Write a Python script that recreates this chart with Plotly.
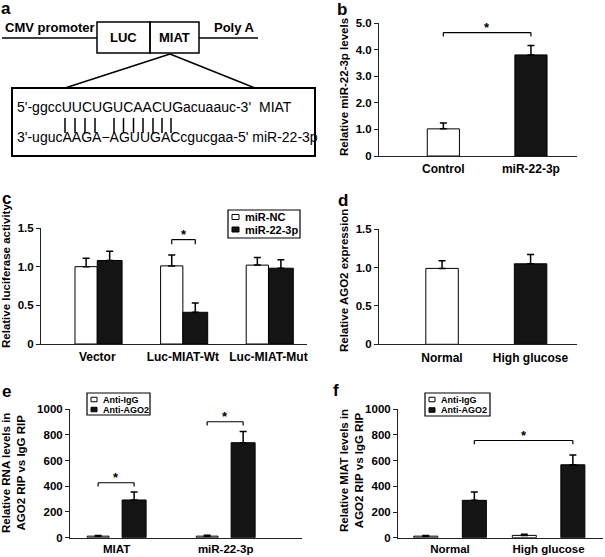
import plotly.graph_objects as go

W, H = 605, 557
def X(px): return px / W
def Y(py): return 1 - py / H

FONT = "Arial, Liberation Sans, sans-serif"
BLACK = "#141414"

# ---------------- data ----------------
b_categories = ["Control", "miR-22-3p"]
b_values = [1.02, 3.80]
b_errors = [0.22, 0.35]

c_categories = ["Vector", "Luc-MIAT-Wt", "Luc-MIAT-Mut"]
c_nc_values = [1.00, 1.01, 1.02]
c_nc_errors = [0.11, 0.14, 0.10]
c_mir_values = [1.08, 0.41, 0.98]
c_mir_errors = [0.12, 0.12, 0.11]

d_categories = ["Normal", "High glucose"]
d_values = [0.99, 1.05]
d_errors = [0.10, 0.12]

e_categories = ["MIAT", "miR-22-3p"]
e_igg_values = [12, 12]
e_igg_errors = [5, 8]
e_ago2_values = [293, 738]
e_ago2_errors = [62, 88]

f_categories = ["Normal", "High glucose"]
f_igg_values = [12, 18]
f_igg_errors = [5, 8]
f_ago2_values = [291, 568]
f_ago2_errors = [64, 76]

b_tickvals = [0, 1, 2, 3, 4, 5]
b_ticktext = ["0", "1.0", "2.0", "3.0", "4.0", "5.0"]
cd_tickvals = [0, 0.5, 1.0, 1.5]
cd_ticktext = ["0", "0.5", "1.0", "1.5"]
ef_tickvals = [0, 200, 400, 600, 800, 1000]
ef_ticktext = ["0", "200", "400", "600", "800", "1000"]

seq_miat = "5'-ggccUUCUGUCAACUGacuaauc-3'"
seq_mir = "3'-ugucAAGA\u2212AGUUGACcgucgaa-5'"

# ---------------- figure ----------------
fig = go.Figure()

def err(vals):
    return dict(type="data", array=vals, arrayminus=[0] * len(vals), symmetric=False,
                color="black", thickness=1.5, width=3.5)

white_bar = dict(color="white", line=dict(color="black", width=1))
black_bar = dict(color=BLACK, line=dict(color="black", width=1))

# b
fig.add_trace(go.Bar(x=b_categories, y=b_values, xaxis="x", yaxis="y",
                     marker=dict(color=["white", BLACK], line=dict(color="black", width=1)),
                     width=0.367, offset=-0.183, error_y=err(b_errors), showlegend=False))
# c
fig.add_trace(go.Bar(x=c_categories, y=c_nc_values, name="miR-NC", xaxis="x2", yaxis="y2",
                     marker=white_bar, width=0.26, offset=-0.26, error_y=err(c_nc_errors),
                     showlegend=False))
fig.add_trace(go.Bar(x=c_categories, y=c_mir_values, name="miR-22-3p", xaxis="x2", yaxis="y2",
                     marker=black_bar, width=0.29, offset=0.0, error_y=err(c_mir_errors),
                     showlegend=False))
# d
fig.add_trace(go.Bar(x=d_categories, y=d_values, xaxis="x3", yaxis="y3",
                     marker=dict(color=["white", BLACK], line=dict(color="black", width=1)),
                     width=0.367, offset=-0.183, error_y=err(d_errors), showlegend=False))
# e
fig.add_trace(go.Bar(x=e_categories, y=e_igg_values, name="Anti-IgG", xaxis="x4", yaxis="y4",
                     marker=white_bar, width=0.2, offset=-0.27, error_y=err(e_igg_errors),
                     showlegend=False))
fig.add_trace(go.Bar(x=e_categories, y=e_ago2_values, name="Anti-AGO2", xaxis="x4", yaxis="y4",
                     marker=black_bar, width=0.22, offset=0.05, error_y=err(e_ago2_errors),
                     showlegend=False))
# f
fig.add_trace(go.Bar(x=f_categories, y=f_igg_values, name="Anti-IgG", xaxis="x5", yaxis="y5",
                     marker=white_bar, width=0.244, offset=-0.368, error_y=err(f_igg_errors),
                     showlegend=False))
fig.add_trace(go.Bar(x=f_categories, y=f_ago2_values, name="Anti-AGO2", xaxis="x5", yaxis="y5",
                     marker=black_bar, width=0.244, offset=0.125, error_y=err(f_ago2_errors),
                     showlegend=False))

tickfont_y = dict(family=FONT, size=11.5, color="black", weight="bold")

def xax(dom, rng, fsize=12, standoff=2):
    return dict(domain=[X(dom[0]), X(dom[1])], range=rng, showline=True, linecolor="#222",
                linewidth=1, ticks="", showgrid=False, zeroline=False,
                tickfont=dict(family=FONT, size=fsize, color="black", weight="bold"),
                fixedrange=True, ticklabelstandoff=standoff, automargin=False)

def yax(dom, rng, tv, tt, anchor):
    return dict(domain=[Y(dom[0]), Y(dom[1])], range=rng, showline=True, linecolor="#222",
                linewidth=1, ticks="outside", ticklen=4, tickwidth=1, tickcolor="#222",
                tickvals=tv, ticktext=tt, showgrid=False, zeroline=False, tickfont=tickfont_y,
                anchor=anchor, fixedrange=True, automargin=False)

fig.update_layout(
    width=W, height=H, margin=dict(l=0, r=0, t=0, b=0, autoexpand=False),
    paper_bgcolor="white", plot_bgcolor="white", barmode="group",
    font=dict(family=FONT, color="black"),
    xaxis=dict(xax((379, 577), [-0.734, 1.526]), anchor="y"),
    yaxis=yax((156, 23), [0, 5], b_tickvals, b_ticktext, "x"),
    xaxis2=dict(xax((41, 307), [-0.657, 2.45]), anchor="y2"),
    yaxis2=yax((344, 228), [0, 1.5], cd_tickvals, cd_ticktext, "x2"),
    xaxis3=dict(xax((379, 577), [-0.712, 1.525]), anchor="y3"),
    yaxis3=yax((344.3, 229.3), [0, 1.5], cd_tickvals, cd_ticktext, "x3"),
    xaxis4=dict(xax((70, 302), [-0.428, 1.70], 11.5, 0), anchor="y4"),
    yaxis4=yax((537.7, 409), [0, 1000], ef_tickvals, ef_ticktext, "x4"),
    xaxis5=dict(xax((398, 603), [-0.528, 1.553], 11.5, 0), anchor="y5"),
    yaxis5=yax((537.7, 409.3), [0, 1000], ef_tickvals, ef_ticktext, "x5"),
)

shapes = []
annos = []

def bracket(xr, yr, x0, x1, y, drop):
    for (a, b_, c, d) in [(x0, y, x1, y), (x0, y, x0, y - drop), (x1, y, x1, y - drop)]:
        shapes.append(dict(type="line", xref=xr, yref=yr, x0=a, y0=b_, x1=c, y1=d,
                           line=dict(color="black", width=1.2)))
    annos.append(dict(xref=xr, yref=yr, x=(x0 + x1) / 2, y=y, text="*", showarrow=False,
                      yanchor="middle", yshift=5, font=dict(family=FONT, size=13, weight="bold")))

# brackets
bracket("x", "y", 0, 1, 4.64, 0.15)
bracket("x2", "y2", 1 - 0.13, 1 + 0.145, 1.35, 0.06)
bracket("x4", "y4", -0.17, 0.16, 427, 30)
bracket("x4", "y4", 1 - 0.17, 1 + 0.16, 901, 30)
bracket("x5", "y5", 0.247, 1.247, 757, 30)

# legends (manual, compact)
def legend(box, items, fsize, sq):
    x0, y0, x1, y1 = box
    shapes.append(dict(type="rect", xref="paper", yref="paper", x0=X(x0), x1=X(x1),
                       y0=Y(y1), y1=Y(y0), line=dict(color="black", width=1.2)))
    for (label, fill, cy) in items:
        sx = x0 + 4
        shapes.append(dict(type="rect", xref="paper", yref="paper", x0=X(sx), x1=X(sx + sq[0]),
                           y0=Y(cy + sq[1] / 2), y1=Y(cy - sq[1] / 2),
                           line=dict(color="black", width=1), fillcolor=fill))
        annos.append(dict(xref="paper", yref="paper", x=X(sx + sq[0] + 4), y=Y(cy), text=label,
                          showarrow=False, xanchor="left", yanchor="middle",
                          font=dict(family=FONT, size=fsize, weight="bold")))

legend((228, 210, 300, 238), [("miR-NC", "white", 217), ("miR-22-3p", BLACK, 229.5)], 11, (7, 5))
legend((87, 393, 150, 415), [("Anti-IgG", "white", 399.5), ("Anti-AGO2", BLACK, 409.5)], 9, (6, 4.5))
legend((425, 393, 490, 416), [("Anti-IgG", "white", 399.5), ("Anti-AGO2", BLACK, 410)], 9, (6, 4.5))

# y-axis titles
def ytitle(x, y, text):
    annos.append(dict(xref="paper", yref="paper", x=X(x), y=Y(y), text=text, textangle=-90,
                      showarrow=False, xanchor="center", yanchor="middle",
                      font=dict(family=FONT, size=11.5, weight="bold")))

ytitle(344, 87, "Relative miR-22-3p levels")
ytitle(6, 276, "Relative luciferase activity")
ytitle(344, 281, "Relative AGO2 expression")
ytitle(13, 473, "Relative RNA levels in<br>AGO2 RIP vs IgG RIP")
ytitle(351, 471, "Relative MIAT levels in<br>AGO2 RIP vs IgG RIP")

# panel letters
for (lx, ly, t) in [(6, 9, "a"), (342, 10, "b"), (6, 198, "c"), (343, 200, "d"),
                    (6, 391, "e"), (336, 390, "f")]:
    annos.append(dict(xref="paper", yref="paper", x=X(lx), y=Y(ly), text=t, showarrow=False,
                      xanchor="center", yanchor="middle",
                      font=dict(family=FONT, size=17, weight="bold")))

# ---------------- panel a schematic ----------------
def pline(x0, y0, x1, y1, w=1.5):
    shapes.append(dict(type="line", xref="paper", yref="paper", x0=X(x0), y0=Y(y0),
                       x1=X(x1), y1=Y(y1), line=dict(color="black", width=w)))

def prect(x0, y0, x1, y1, w=1.5):
    shapes.append(dict(type="rect", xref="paper", yref="paper", x0=X(x0), y0=Y(y1),
                       x1=X(x1), y1=Y(y0), line=dict(color="black", width=w)))

pline(2, 38, 97, 38)
pline(199, 38, 258, 38)
prect(97, 22, 150, 53)
prect(150, 22, 199, 53)
pline(170, 54, 65, 88)
pline(170, 54, 255, 88)
prect(12, 88, 315, 156, 2)

def ptext(x, y, text, size, bold=True, anchor="left"):
    f = dict(family=FONT, size=size, color="black")
    if bold:
        f["weight"] = "bold"
    annos.append(dict(xref="paper", yref="paper", x=X(x), y=Y(y), text=text, showarrow=False,
                      xanchor=anchor, yanchor="middle", font=f))

ptext(3, 27, "CMV promoter", 13)
ptext(212, 27, "Poly A", 13)
ptext(123.5, 38, "LUC", 13, anchor="center")
ptext(174.5, 38, "MIAT", 13, anchor="center")
ptext(15, 107, seq_miat, 14, bold=False)
ptext(257, 107, "MIAT", 14, bold=False)
ptext(15, 137, seq_mir + " miR-22-3p", 14, bold=False)

for bx in [65, 75, 85, 95, 114, 123.5, 133.5, 143, 153, 162, 171]:
    pline(bx, 118, bx, 133, 1.5)

fig.update_layout(shapes=shapes, annotations=annos)
fig.write_html("out.html", config={"displayModeBar": False},
               post_script="document.body.style.margin='0px';document.body.style.overflow='hidden';")
